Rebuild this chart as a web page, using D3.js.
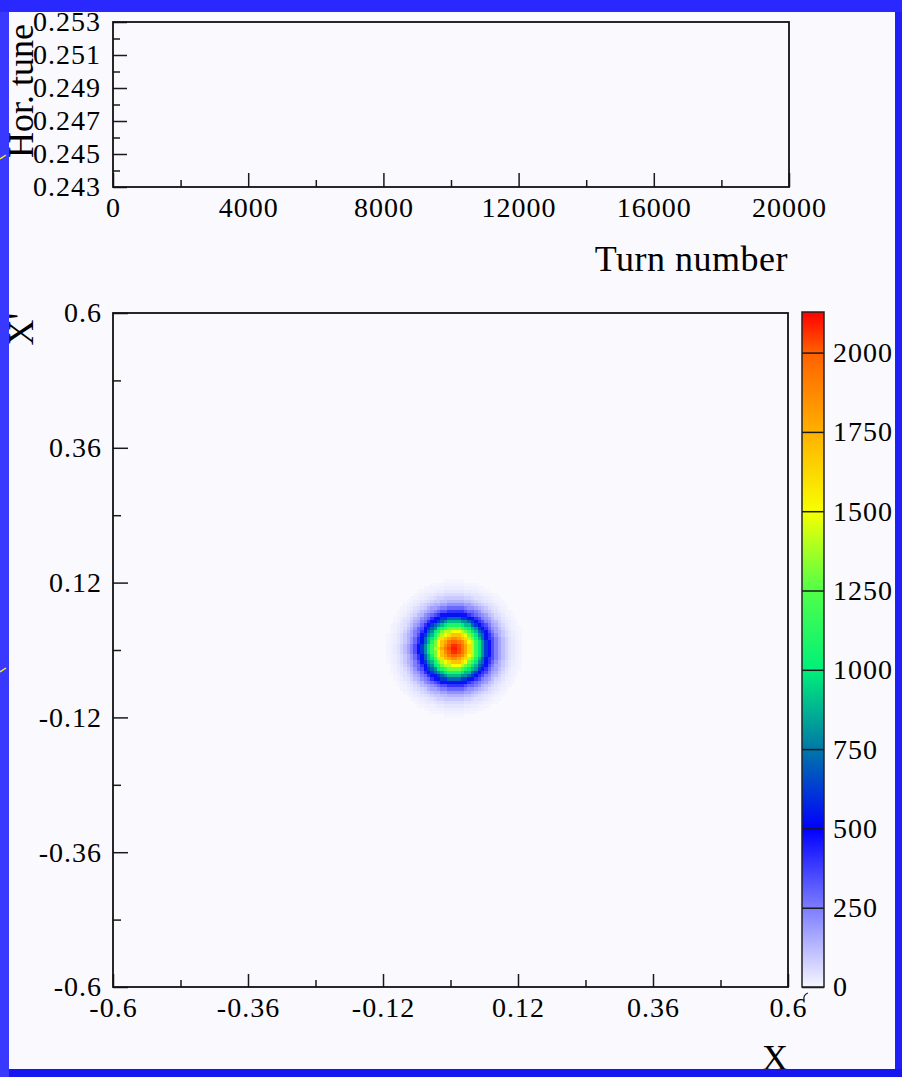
<!DOCTYPE html>
<html>
<head>
<meta charset="utf-8">
<script src="https://cdn.jsdelivr.net/npm/d3@7"></script>
<style>
  body { margin: 0; background: #fff; }
  svg { display: block; }
</style>
</head>
<body>
<svg id="chart" width="902" height="1077"></svg>
<script>
// top pad: tune vs turn (empty frame)
var turnTicks = [0, 4000, 8000, 12000, 16000, 20000];
var turnMinor = [2000, 6000, 10000, 14000, 18000];
var tuneTicks = [0.243, 0.245, 0.247, 0.249, 0.251, 0.253];
var tuneMinor = [0.244, 0.246, 0.248, 0.250, 0.252];

// bottom pad: phase space X / X'
var phaseTicks = [-0.6, -0.36, -0.12, 0.12, 0.36, 0.6];
var phaseMinor = [-0.48, -0.24, 0, 0.24, 0.48];

// colour axis
var zTicks = [0, 250, 500, 750, 1000, 1250, 1500, 1750, 2000];
var zMax = 2128;
var colorLevels = [0, 250, 500, 750, 1000, 1250, 1500, 1750, 2000, 2128];
var colorStops = ['#f6f6ff', '#7c7cff', '#0000ff', '#0078a8', '#00f07a', '#50ff48', '#f8ff00', '#ffb000', '#ff6000', '#ff0000'];

// beam centre, bin width, and counts per bin vs distance from centre
// (one entry per half bin of radius)
var beamCentre = [0.007, 0.003];
var binWidth = 0.006;
var radialCounts = [2100, 2090, 2070, 2030, 1990, 1930, 1860, 1780, 1690, 1600,
                    1500, 1400, 1300, 1190, 1090, 990, 890, 800, 710, 620,
                    540, 470, 400, 340, 290, 245, 205, 170, 140, 115,
                    92, 74, 58, 45, 34, 25, 18, 12, 8, 5, 3];

var svg = d3.select('#chart');
var serif = 'Liberation Serif, Times New Roman, serif';

// blue slide border + white panel
var defs = svg.append('defs');
var bg = defs.append('linearGradient').attr('id', 'border')
    .attr('x1', 0).attr('y1', 0).attr('x2', 1).attr('y2', 1);
bg.append('stop').attr('offset', 0).attr('stop-color', '#3434ff');
bg.append('stop').attr('offset', 1).attr('stop-color', '#1414f0');
svg.append('rect').attr('width', 902).attr('height', 1077).attr('fill', 'url(#border)');
svg.append('rect').attr('x', 9).attr('y', 12).attr('width', 886).attr('height', 1057).attr('fill', '#f9f9fe');

var panel = svg.append('g');

function styleAxis(g, size) {
  g.select('.domain').remove();
  g.attr('font-family', serif).attr('font-size', size).attr('color', '#1a1a1a');
  g.selectAll('line').attr('stroke-width', 1.5);
  g.selectAll('text').attr('fill', '#000').attr('letter-spacing', '1px');
}
var plain = function(d) { return String(d); };

// ---------- top pad ----------
var xt = d3.scaleLinear().domain([0, 20000]).range([113, 789]);
var yt = d3.scaleLinear().domain([0.243, 0.253]).range([187, 22]);

panel.append('g').attr('transform', 'translate(0,187)')
    .call(d3.axisBottom(xt).tickValues(turnTicks).tickFormat(plain).tickSize(-14).tickPadding(10))
    .call(styleAxis, 28);
panel.append('g').attr('transform', 'translate(0,187)')
    .call(d3.axisBottom(xt).tickValues(turnMinor).tickFormat('').tickSize(-7))
    .call(styleAxis, 28);
panel.append('g').attr('transform', 'translate(113,0)')
    .call(d3.axisLeft(yt).tickValues(tuneTicks).tickFormat(d3.format('.3f')).tickSize(-14).tickPadding(12))
    .call(styleAxis, 28);
panel.append('g').attr('transform', 'translate(113,0)')
    .call(d3.axisLeft(yt).tickValues(tuneMinor).tickFormat('').tickSize(-7))
    .call(styleAxis, 28);
panel.append('rect').attr('x', 113).attr('y', 22).attr('width', 676).attr('height', 165)
    .attr('fill', 'none').attr('stroke', '#111').attr('stroke-width', 1.8);

panel.append('text').attr('x', 788).attr('y', 271).attr('text-anchor', 'end')
    .attr('font-family', serif).attr('font-size', 36).attr('letter-spacing', '0.5px').text('Turn number');
panel.append('text').attr('transform', 'translate(33,24) rotate(-90)').attr('text-anchor', 'end')
    .attr('font-family', serif).attr('font-size', 36).text('Hor. tune');

// ---------- phase space histogram ----------
var x = d3.scaleLinear().domain([-0.6, 0.6]).range([113, 788]);
var y = d3.scaleLinear().domain([-0.6, 0.6]).range([987, 313]);

var color = d3.scaleLinear().domain(colorLevels).range(colorStops).clamp(true);

var nBins = Math.round(1.2 / binWidth);
var cells = [];
for (var i = 0; i < nBins; i++) {
  for (var j = 0; j < nBins; j++) {
    var x0 = -0.6 + i * binWidth, y0 = -0.6 + j * binWidth;
    var dx = (x0 + binWidth / 2 - beamCentre[0]) / binWidth;
    var dy = (y0 + binWidth / 2 - beamCentre[1]) / binWidth;
    var k = Math.round(2 * Math.sqrt(dx * dx + dy * dy));
    if (k < radialCounts.length) cells.push({x0: x0, y0: y0, v: radialCounts[k]});
  }
}

panel.append('g').selectAll('rect')
  .data(cells)
  .enter().append('rect')
    .attr('x', function(d) { return x(d.x0); })
    .attr('y', function(d) { return y(d.y0 + binWidth); })
    .attr('width', function(d) { return x(d.x0 + binWidth) - x(d.x0) + 0.3; })
    .attr('height', function(d) { return y(d.y0) - y(d.y0 + binWidth) + 0.3; })
    .attr('fill', function(d) { return color(d.v); })
    .attr('shape-rendering', 'crispEdges');

panel.append('g').attr('transform', 'translate(0,987)')
    .call(d3.axisBottom(x).tickValues(phaseTicks).tickFormat(plain).tickSize(-13).tickPadding(10))
    .call(styleAxis, 28);
panel.append('g').attr('transform', 'translate(0,987)')
    .call(d3.axisBottom(x).tickValues(phaseMinor).tickFormat('').tickSize(-7))
    .call(styleAxis, 28);
panel.append('g').attr('transform', 'translate(113,0)')
    .call(d3.axisLeft(y).tickValues(phaseTicks).tickFormat(plain).tickSize(-15).tickPadding(11))
    .call(styleAxis, 28);
panel.append('g').attr('transform', 'translate(113,0)')
    .call(d3.axisLeft(y).tickValues(phaseMinor).tickFormat('').tickSize(-8))
    .call(styleAxis, 28);
panel.append('rect').attr('x', 113).attr('y', 313).attr('width', 675).attr('height', 674)
    .attr('fill', 'none').attr('stroke', '#111').attr('stroke-width', 1.8);

panel.append('text').attr('x', 788).attr('y', 1070).attr('text-anchor', 'end')
    .attr('font-family', serif).attr('font-size', 36).text('X');
panel.append('text').attr('transform', 'translate(33,313) rotate(-90)').attr('text-anchor', 'end')
    .attr('font-family', serif).attr('font-size', 36).text("X'");

// ---------- colour bar ----------
var z = d3.scaleLinear().domain([0, zMax]).range([987, 312]);
var cg = defs.append('linearGradient').attr('id', 'palette')
    .attr('x1', 0).attr('y1', 1).attr('x2', 0).attr('y2', 0);
cg.selectAll('stop')
  .data(colorLevels)
  .enter().append('stop')
    .attr('offset', function(d) { return d / zMax; })
    .attr('stop-color', function(d, i) { return colorStops[i]; });

panel.append('rect').attr('x', 802).attr('y', z(zMax)).attr('width', 22).attr('height', z(0) - z(zMax))
    .attr('fill', 'url(#palette)');
panel.append('g').attr('transform', 'translate(824,0)')
    .call(d3.axisRight(z).tickValues(zTicks).tickFormat(plain).tickSize(-22).tickPadding(9))
    .call(styleAxis, 28);
panel.append('rect').attr('x', 802).attr('y', z(zMax)).attr('width', 22).attr('height', z(0) - z(zMax))
    .attr('fill', 'none').attr('stroke', '#222').attr('stroke-width', 1.5);
// small stray mark under the colour bar
panel.append('path').attr('d', 'M808,993 Q803,995 804,1000').attr('fill', 'none')
    .attr('stroke', '#222').attr('stroke-width', 1.2);

// slide border on top (clips labels that run past the panel)
svg.append('rect').attr('x', 895).attr('y', 0).attr('width', 7).attr('height', 1077).attr('fill', '#2020f6');
svg.append('rect').attr('x', 0).attr('y', 1069).attr('width', 902).attr('height', 8).attr('fill', '#1616f0');
svg.append('rect').attr('x', 0).attr('y', 0).attr('width', 9).attr('height', 1077).attr('fill', '#3838ff');
svg.append('rect').attr('x', 0).attr('y', 0).attr('width', 902).attr('height', 12).attr('fill', '#2828ff');
// tiny yellow marks on the left border
[157, 670].forEach(function(yy) {
  svg.append('path').attr('d', 'M0,' + (yy + 2) + 'L6,' + (yy - 2)).attr('stroke', '#ffee00').attr('stroke-width', 1.5);
});
</script>
</body>
</html>
